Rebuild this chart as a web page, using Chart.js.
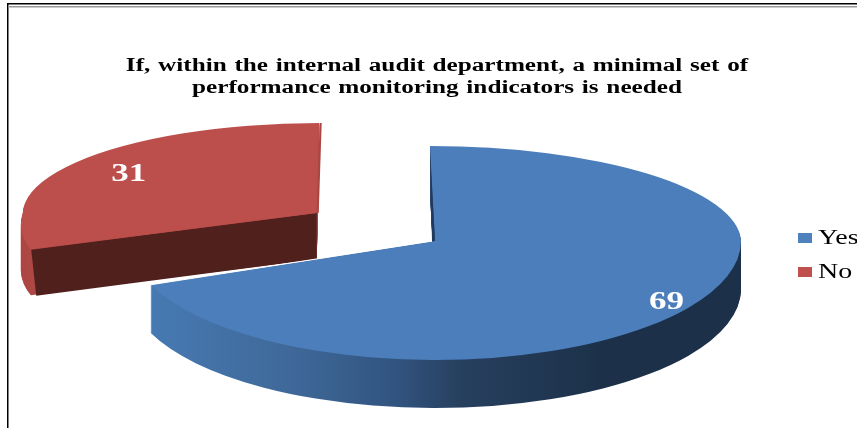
<!DOCTYPE html>
<html>
<head>
<meta charset="utf-8">
<script src="https://cdn.jsdelivr.net/npm/chart.js@4"></script>
<style>
  html, body { margin: 0; padding: 0; background: #fff; overflow: hidden; }
  canvas { display: block; }
</style>
</head>
<body>
<canvas id="chart1" width="857" height="428"></canvas>
<script>
// data
const labels = ['Yes', 'No'];
const values = [69, 31];
const titleLines = [
    'If, within the internal audit department, a minimal set of',
    'performance monitoring indicators is needed'
];
const sliceColors = ['#4c7ebb', '#bc4f4c'];
const legendColors = ['#4f81bd', '#c0504d'];

// 3D look: chart.js only knows round pies, so the arcs are stretched when drawn
const pieX = 435, pieY = 241;
const pieRadius = 107, xStretch = 306 / 107;
const depth = 48;
const widths = [306, 294];        // half width per slice
const topHeights = [95, 90];      // above the tip
const bottomHeights = [119, 100]; // below the tip (nearer the viewer, so bigger)
const topLean = [0.053, -0.044];
const bottomLean = [0, -0.33];
const labelReach = [0.915, 0.78];

function tipOf(el) {
    const half = (el.startAngle + el.endAngle) / 2;
    const off = (el.options.offset || 0) / 4;
    const fix = 1 - Math.sin(Math.min(Math.PI, el.circumference));
    return {
        dx: Math.cos(half) * off,
        dy: Math.sin(half) * off,
        x: pieX + Math.cos(half) * off * xStretch,
        y: Math.round(pieY + Math.sin(half) * off),
        r: el.outerRadius + off * fix
    };
}

// one arc, upper and lower half with their own height so the outline looks like perspective
function drawSlice(ctx, el, i, lift, fill) {
    const tip = tipOf(el);
    const saved = el.options;
    el.options = { ...saved, backgroundColor: fill, borderWidth: 0 };
    [true, false].forEach((upper) => {
        const ry = upper ? topHeights[i] : bottomHeights[i];
        const lean = upper ? topLean[i] : bottomLean[i];
        ctx.save();
        ctx.beginPath();
        ctx.rect(0, upper ? 0 : tip.y + lift, 857, upper ? tip.y + lift : 428);
        ctx.clip();
        ctx.translate(tip.x, tip.y + lift);
        ctx.transform(1, 0, lean, 1, 0, 0);
        ctx.scale(widths[i] / tip.r, ry / tip.r);
        ctx.translate(-el.x - tip.dx, -el.y - tip.dy);
        el.draw(ctx);
        ctx.restore();
    });
    el.options = saved;
}

// canvas position of a point on the slice, angle in chart.js radians
function project(el, i, angle, reach) {
    const tip = tipOf(el);
    const c = Math.cos(angle) * reach, s = Math.sin(angle) * reach;
    const lean = s < 0 ? topLean[i] : bottomLean[i];
    const py = s * (s < 0 ? topHeights[i] : bottomHeights[i]);
    return { x: tip.x + c * widths[i] + lean * py, y: tip.y + py };
}

function stretchedText(ctx, text, x, y, font, color, sx, align, wordGap) {
    ctx.save();
    ctx.font = font;
    ctx.fillStyle = color;
    ctx.textAlign = align || 'center';
    ctx.textBaseline = 'alphabetic';
    ctx.wordSpacing = wordGap || '0px';
    ctx.translate(x, y);
    ctx.scale(sx, 1);
    ctx.fillText(text, 0, 0);
    ctx.restore();
}

const pie3d = {
    id: 'pie3d',
    beforeDatasetsDraw(chart) {
        const { ctx } = chart;
        const arcs = chart.getDatasetMeta(0).data;
        const blue = arcs[0], red = arcs[1];

        // No
        for (let lift = depth - 2; lift > 0; lift--) {
            drawSlice(ctx, red, 1, lift, '#ae4845');
        }
        const a = project(red, 1, red.startAngle, 1);
        const b = project(red, 1, red.startAngle, 0);
        ctx.fillStyle = '#4f201c';
        ctx.beginPath();
        ctx.moveTo(a.x, a.y);
        ctx.lineTo(b.x, b.y);
        ctx.lineTo(b.x, b.y + depth - 2);
        ctx.lineTo(a.x + 5, a.y + depth - 2);
        ctx.closePath();
        ctx.fill();
        drawSlice(ctx, red, 1, 0, sliceColors[1]);
        const redTop = project(red, 1, red.endAngle, 1);
        ctx.strokeStyle = '#a84744';
        ctx.lineWidth = 2;
        ctx.beginPath();
        ctx.moveTo(redTop.x, redTop.y);
        ctx.lineTo(b.x + 1, b.y);
        ctx.stroke();

        // Yes
        const wall = ctx.createLinearGradient(blue.x - blue.outerRadius, 0, blue.x + blue.outerRadius, 0);
        wall.addColorStop(0.03, '#477ab3');
        wall.addColorStop(0.28, '#3e6797');
        wall.addColorStop(0.44, '#31537f');
        wall.addColorStop(0.54, '#27405f');
        wall.addColorStop(0.77, '#1c3149');
        wall.addColorStop(1, '#1c3149');
        for (let lift = depth; lift > 0; lift--) {
            drawSlice(ctx, blue, 0, lift, wall);
        }
        drawSlice(ctx, blue, 0, 0, sliceColors[0]);

        const tip = project(blue, 0, blue.startAngle, 0);
        const top = project(blue, 0, blue.startAngle, 1);
        const end = project(blue, 0, blue.endAngle, 1);
        ctx.fillStyle = '#1f3a5f';
        ctx.beginPath();
        ctx.moveTo(top.x, top.y + 6);
        ctx.lineTo(tip.x, tip.y);
        ctx.lineTo(tip.x - 3, tip.y);
        ctx.closePath();
        ctx.fill();
        ctx.strokeStyle = '#fff';
        ctx.lineWidth = 1;
        ctx.beginPath();
        ctx.moveTo(tip.x - 3, tip.y);
        ctx.lineTo(end.x, end.y);
        ctx.stroke();

        // values on the slices
        arcs.forEach((el, i) => {
            const half = (el.startAngle + el.endAngle) / 2;
            const p = project(el, i, half, labelReach[i]);
            stretchedText(ctx, String(values[i]), p.x, p.y + 7, 'bold 25px "Liberation Serif"', '#fff', 1.4);
        });
        return false;
    },
    afterDraw(chart) {
        const { ctx } = chart;
        // frame of the original picture
        ctx.fillStyle = '#000';
        ctx.fillRect(7, 3, 850, 1.5);
        ctx.fillRect(7, 3, 1.5, 425);
        ctx.fillStyle = '#9a9a9a';
        ctx.fillRect(8, 6, 849, 1.5);

        // title
        titleLines.forEach((line, i) => {
            stretchedText(ctx, line, 437, i === 0 ? 71 : 93, 'bold 18px "Liberation Serif"', '#000', 1.4, 'center', '1px');
        });

        // legend
        labels.forEach((label, i) => {
            const y = 233 + i * 34;
            ctx.fillStyle = legendColors[i];
            ctx.fillRect(798, y, 14, 10);
            stretchedText(ctx, label, 818, y + 11, '21px "Liberation Serif"', '#000', 1.33, 'left');
        });
    }
};

const ctx = document.querySelector('#chart1');
new Chart(ctx, {
    type: 'pie',
    data: {
        labels: labels,
        datasets: [{
            data: values,
            backgroundColor: sliceColors,
            borderWidth: 0,
            offset: [0, 200]
        }]
    },
    options: {
        responsive: false,
        animation: false,
        radius: pieRadius,
        plugins: {
            legend: { display: false },
            title: { display: false },
            tooltip: { enabled: false }
        }
    },
    plugins: [pie3d]
});
</script>
</body>
</html>
